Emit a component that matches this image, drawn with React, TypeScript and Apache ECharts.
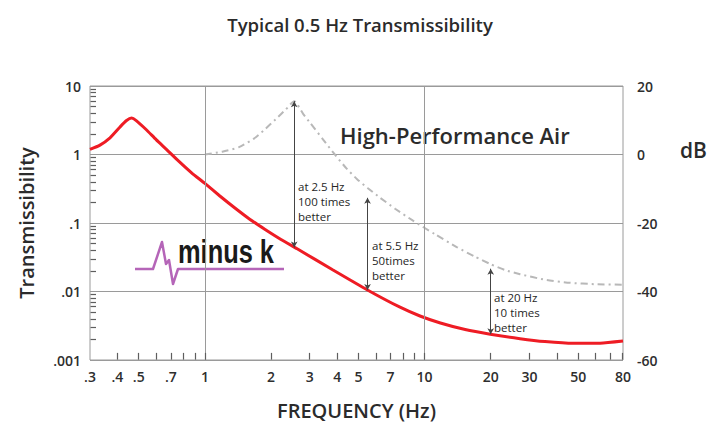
import React, { useEffect, useRef } from "react";
import * as echarts from "echarts";

// Minus K 0.5 Hz isolator transmissibility
const redFreq = [0.3, 0.333, 0.37, 0.41, 0.44, 0.464, 0.487, 0.54, 0.6, 0.67, 0.76, 0.87, 1.0, 1.17, 1.37, 1.6, 1.88, 2.22, 2.63, 3.83, 5.52, 7.73, 9.53, 11.8, 15.3, 19.9, 27.2, 35.3, 47.4, 62.9, 80];
const redT = [1.19, 1.37, 1.75, 2.5, 3.13, 3.4, 3.13, 2.32, 1.65, 1.18, 0.8, 0.54, 0.378, 0.248, 0.1656, 0.1136, 0.0806, 0.0576, 0.042, 0.0206, 0.01045, 0.0059, 0.00439, 0.00347, 0.00278, 0.00238, 0.00205, 0.00186, 0.00175, 0.00176, 0.00189];

// High-Performance Air
const grayFreq = [1.0, 1.2, 1.43, 1.7, 1.89, 2.1, 2.33, 2.55, 2.8, 3.01, 3.46, 3.91, 4.42, 4.93, 5.52, 6.27, 7.34, 8.86, 11.15, 14.0, 16.96, 19.9, 23.2, 27.2, 35.3, 45.9, 59.7, 80];
const grayT = [1.0, 1.1, 1.28, 1.77, 2.38, 3.27, 4.51, 6.0, 3.93, 2.91, 1.64, 0.993, 0.621, 0.436, 0.322, 0.234, 0.1617, 0.108, 0.0686, 0.0446, 0.0322, 0.0252, 0.0206, 0.0179, 0.01487, 0.0134, 0.01278, 0.01257];

// annotations
const annoFreq = [2.55, 5.5, 20];
const annoLow = [0.044, 0.0105, 0.00238];
const annoHigh = [6.0, 0.233, 0.0215];
const annoText = ["at 2.5 Hz\n100 times\nbetter", "at 5.5 Hz\n50times\nbetter", "at 20 Hz\n10 times\nbetter"];

// axes
const xLabelFreqs = [0.3, 0.4, 0.5, 0.7, 1, 2, 3, 4, 5, 7, 10, 20, 30, 50, 80];
const xLabelText = [".3", ".4", ".5", ".7", "1", "2", "3", "4", "5", "7", "10", "20", "30", "50", "80"];
const xTickFreqs = [0.4, 0.5, 0.6, 0.7, 0.8, 0.9, 1, 2, 3, 4, 5, 6, 7, 8, 9, 10, 20, 30, 40, 50, 60, 70, 79.5];
const xGridFreqs = [1, 10];
const yLabelText = [".001", ".01", ".1", "1", "10"];
const yMinorTicks = [0.002, 0.003, 0.004, 0.005, 0.006, 0.007, 0.008, 0.009, 0.02, 0.03, 0.04, 0.05, 0.06, 0.07, 0.08, 0.09, 0.2, 0.3, 0.4, 0.5, 0.6, 0.7, 0.8, 0.9, 2, 3, 4, 5, 6, 7, 8, 9];

// axis extents and tick-mark extents (ticks about 7 px and 6 px long, starting just inside the frame)
const X_MIN = 0.3;
const X_MAX = 80;
const Y_MIN = 0.001;
const Y_MAX = 10;
const X_TICK_FROM = 0.001012;
const X_TICK_TO = 0.00127;
const Y_TICK_FROM = 0.3016;
const Y_TICK_TO = 0.3195;

export default function App() {
  const ref = useRef<HTMLDivElement>(null);
  useEffect(() => {
    if (!ref.current) return;
    const chart = echarts.init(ref.current, undefined, { renderer: "svg" });
    const FONT = '"Open Sans", "Noto Sans", sans-serif';
    const lx = (f: number) => Math.log10(f);
    const labelStyle = { fontFamily: FONT, fontSize: 14, fontWeight: 600, color: "#2e2e2e" };
    const tickLines = [
      ...xTickFreqs.map((f) => [{ coord: [f, X_TICK_FROM] }, { coord: [f, X_TICK_TO] }]),
      ...yMinorTicks.map((v) => [{ coord: [Y_TICK_FROM, v] }, { coord: [Y_TICK_TO, v] }]),
    ];
    const option: any = {
      animation: false,
      backgroundColor: "#ffffff",
      title: {
        text: "Typical 0.5 Hz Transmissibility",
        left: "center",
        top: 10,
        textStyle: { fontFamily: FONT, fontSize: 18.5, fontWeight: 600, color: "#2b2b2b" },
      },
      grid: { left: 90, right: 97, top: 86, bottom: 72, show: true, borderColor: "#9a9a9a", borderWidth: 1 },
      xAxis: [
        { type: "log", logBase: 10, min: X_MIN, max: X_MAX, show: false },
        {
          type: "value",
          min: lx(X_MIN),
          max: lx(X_MAX),
          position: "bottom",
          axisLine: { show: false, onZero: false },
          splitLine: { show: false },
          axisTick: { show: false },
          axisLabel: {
            ...labelStyle,
            margin: 9,
            customValues: xLabelFreqs.map(lx),
            formatter: (v: number) => {
              let best = 0;
              xLabelFreqs.forEach((x, i) => {
                if (Math.abs(Math.log10(x) - v) < Math.abs(Math.log10(xLabelFreqs[best]) - v)) best = i;
              });
              return xLabelText[best];
            },
          },
          name: "FREQUENCY (Hz)",
          nameLocation: "middle",
          nameGap: 40,
          nameTextStyle: { fontFamily: FONT, fontSize: 20, fontWeight: 600, color: "#2b2b2b" },
        },
      ],
      yAxis: [
        {
          type: "log",
          logBase: 10,
          min: Y_MIN,
          max: Y_MAX,
          position: "left",
          axisLine: { show: false, onZero: false },
          axisTick: { show: false },
          splitLine: { show: true, lineStyle: { color: "#9a9a9a", width: 1 } },
          axisLabel: {
            ...labelStyle,
            margin: 9,
            formatter: (v: number) => yLabelText[Math.round(Math.log10(v)) + 3],
          },
          name: "Transmissibility",
          nameLocation: "middle",
          nameGap: 54,
          nameTextStyle: { fontFamily: FONT, fontSize: 20, fontWeight: 600, color: "#2b2b2b" },
        },
        {
          type: "value",
          min: -60,
          max: 20,
          interval: 20,
          position: "right",
          axisLine: { show: false, onZero: false },
          axisTick: { show: false },
          splitLine: { show: false },
          axisLabel: { ...labelStyle, margin: 14 },
        },
      ],
      graphic: [
        {
          type: "text",
          left: 340,
          top: 124,
          style: { text: "High-Performance Air", fontFamily: FONT, fontSize: 22, fontWeight: 600, fill: "#2b2b2b" },
        },
        {
          type: "text",
          left: 680,
          top: 139,
          style: { text: "dB", fontFamily: FONT, fontSize: 21, fontWeight: 600, fill: "#2b2b2b" },
        },
        {
          type: "polyline",
          shape: { points: [[135, 269], [153, 269], [162, 242], [166, 264], [169, 260], [173, 284], [178, 269], [284, 269]] },
          style: { stroke: "#b565b8", lineWidth: 2.5, fill: "none", lineJoin: "round" },
        },
        {
          type: "text",
          x: 178,
          y: 235,
          scaleX: 0.77,
          style: { text: "minus k", fontFamily: '"Liberation Sans", Arial, sans-serif', fontSize: 33, fontWeight: "bold", fill: "#1a1a1a", verticalAlign: "top" },
        },
        ...annoText.map((t, i) => ({
          type: "text",
          left: [298, 372, 494][i],
          top: [179, 238, 290][i],
          style: { text: t, fontFamily: FONT, fontSize: 11.5, lineHeight: 15, fill: "#262626" },
        })),
      ],
      series: [
        {
          type: "line",
          name: "grid",
          xAxisIndex: 0,
          yAxisIndex: 0,
          data: [],
          silent: true,
          z: 1,
          markLine: {
            silent: true,
            symbol: "none",
            label: { show: false },
            lineStyle: { color: "#9a9a9a", width: 1, type: "solid" },
            data: xGridFreqs.map((f) => ({ xAxis: f })),
          },
        },
        {
          type: "line",
          name: "ticks",
          xAxisIndex: 0,
          yAxisIndex: 0,
          data: [],
          silent: true,
          z: 2,
          markLine: {
            silent: true,
            symbol: "none",
            label: { show: false },
            lineStyle: { color: "#5e5e5e", width: 1.2, type: "solid" },
            data: tickLines,
          },
        },
        {
          type: "line",
          name: "High-Performance Air",
          xAxisIndex: 0,
          yAxisIndex: 0,
          data: grayFreq.map((f, i) => [f, grayT[i]]),
          showSymbol: false,
          smooth: 0.2,
          z: 3,
          lineStyle: { color: "#b8b8b8", width: 2, type: [7, 4, 2, 4] },
        },
        {
          type: "line",
          name: "Minus K",
          xAxisIndex: 0,
          yAxisIndex: 0,
          data: redFreq.map((f, i) => [f, redT[i]]),
          showSymbol: false,
          smooth: 0.2,
          z: 4,
          lineStyle: { color: "#ee1c24", width: 3 },
          markLine: {
            silent: true,
            symbol: ["arrow", "arrow"],
            symbolSize: [5, 6],
            label: { show: false },
            lineStyle: { color: "#444", width: 1, type: "solid" },
            data: annoFreq.map((f, i) => [{ coord: [f, annoLow[i]] }, { coord: [f, annoHigh[i]] }]),
          },
        },
      ],
    };
    chart.setOption(option);
    return () => chart.dispose();
  }, []);
  return <div ref={ref} style={{ position: "absolute", left: 0, top: 0, width: 720, height: 432 }} />;
}
